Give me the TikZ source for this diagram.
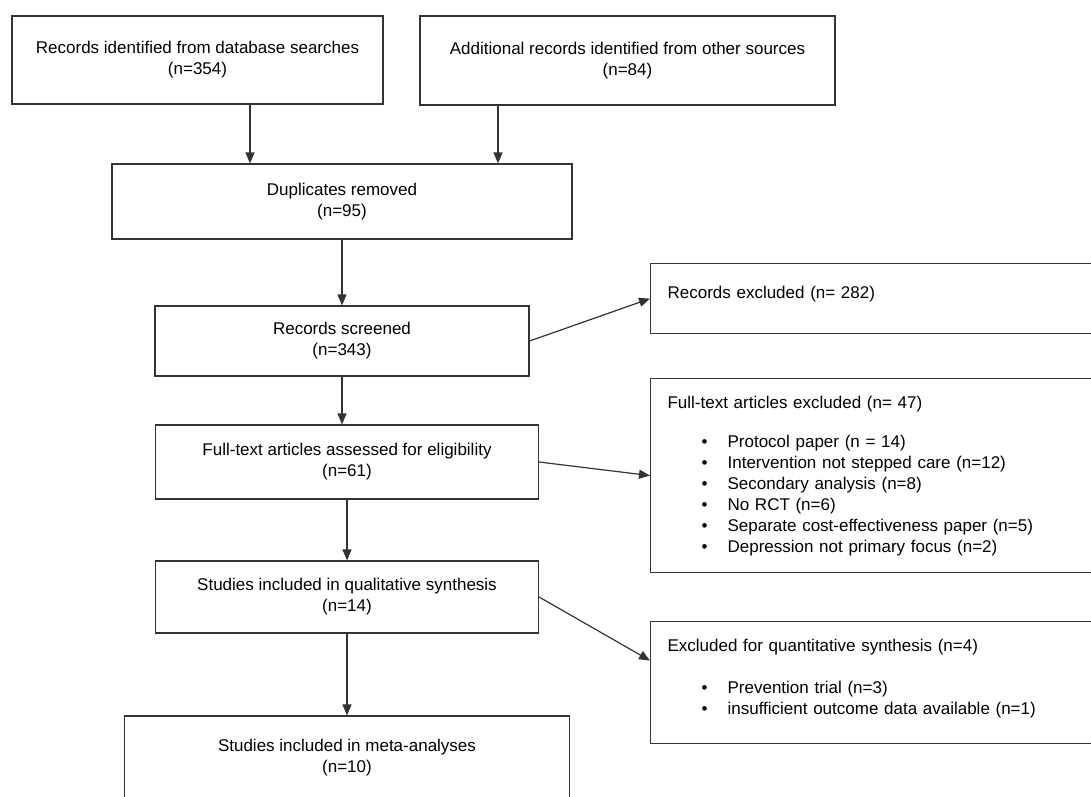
\documentclass[tikz,border=0pt]{standalone}
\usepackage{fontspec}
\setmainfont{Liberation Sans}
\usetikzlibrary{arrows.meta}
\tikzset{
  basic/.style    = {draw=black!80, line width=1.2pt, rectangle, inner sep=0pt,
                     font=\fontsize{17}{21}\selectfont},
  stage/.style    = {basic, align=center},
  excluded/.style = {basic, align=left, anchor=north west, inner xsep=17pt,
                     inner ysep=18pt, text width=420pt}
}
\newcommand{\bitem}{\hspace*{34pt}\makebox[26pt][l]{\textbullet}}

\begin{document}
\begin{tikzpicture}[
  x=1pt, y=-1pt,
  arr/.style={->, line width=1.2pt, draw=black!80},
  >={Triangle[length=11pt,width=9pt]}]

\path[fill=white, use as bounding box] (0,0) rectangle (1091,796);
\clip (0,0) rectangle (1091,796);

% main flow, left column
\node[stage, minimum width=371pt, minimum height=88pt] (ident) at (197.5,60)
  {Records identified from database searches\\(n=354)};
\node[stage, minimum width=415pt, minimum height=89pt] (other) at (627.5,60.5)
  {Additional records identified from other sources\\(n=84)};
\node[stage, minimum width=460pt, minimum height=75pt] (dupl) at (342,201.5)
  {Duplicates removed\\(n=95)};
\node[stage, minimum width=374pt, minimum height=70pt] (screen) at (342,341)
  {Records screened\\(n=343)};
\node[stage, minimum width=383pt, minimum height=74pt] (elig) at (347,462)
  {Full-text articles assessed for eligibility\\(n=61)};
\node[stage, minimum width=383pt, minimum height=72pt] (qual) at (347,597)
  {Studies included in qualitative synthesis\\(n=14)};
\node[stage, minimum width=445pt, minimum height=84pt] (meta) at (347,758)
  {Studies included in meta-analyses\\(n=10)};

% exclusion boxes, right column
\node[excluded, text height=17pt, text depth=17pt] (recexcl) at (650,263)
  {Records excluded (n= 282)};
\node[excluded, text depth=145.6pt] (ftexcl) at (650,378)
  {Full-text articles excluded (n= 47)\\[18pt]
   \bitem Protocol paper (n = 14)\\
   \bitem Intervention not stepped care (n=12)\\
   \bitem Secondary analysis (n=8)\\
   \bitem No RCT (n=6)\\
   \bitem Separate cost-effectiveness paper (n=5)\\
   \bitem Depression not primary focus (n=2)};
\node[excluded, text depth=73.6pt] (quantexcl) at (650,621)
  {Excluded for quantitative synthesis (n=4)\\[21pt]
   \bitem Prevention trial (n=3)\\
   \bitem insufficient outcome data available (n=1)};

% arrows down the flow
\draw[arr] ([xshift=52.5pt]ident.south) -- ([xshift=-92pt]dupl.north);
\draw[arr] ([xshift=-129.5pt]other.south) -- ([xshift=156pt]dupl.north);
\draw[arr] (dupl.south) -- (screen.north);
\draw[arr] (screen.south) -- ([xshift=-5pt]elig.north);
\draw[arr] (elig.south) -- (qual.north);
\draw[arr] (qual.south) -- (meta.north);

% arrows to the exclusions
\draw[arr] (screen.east) -- (recexcl.west);
\draw[arr] (elig.east) -- (ftexcl.west);
\draw[arr] (qual.east) -- ([yshift=22pt]quantexcl.west);

\end{tikzpicture}
\end{document}
